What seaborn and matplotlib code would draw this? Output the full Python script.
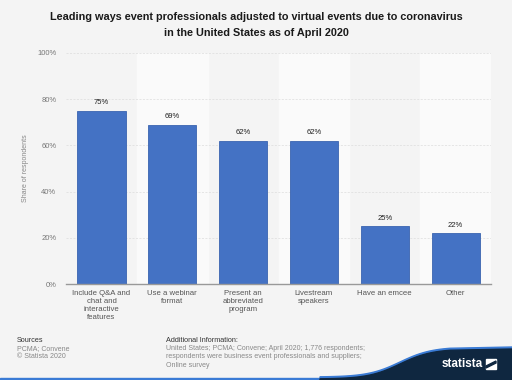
import numpy as np
import pandas as pd
import seaborn as sns
import matplotlib.pyplot as plt
from matplotlib.patches import Polygon, Rectangle

# data
categories = ["Include Q&A and\nchat and\ninteractive\nfeatures", "Use a webinar\nformat",
              "Present an\nabbreviated\nprogram", "Livestream\nspeakers", "Have an emcee", "Other"]
values = [75, 69, 62, 62, 25, 22]
y_ticks = [0, 20, 40, 60, 80, 100]

df = pd.DataFrame({"way": categories, "share": values})

sns.set_style("white")
plt.rcParams["font.family"] = ["Liberation Sans", "DejaVu Sans"]

bg = "#f4f4f4"
fig = plt.figure(figsize=(5.12, 3.80), dpi=100, facecolor=bg)
ax = fig.add_axes([0.129, 0.2526, 0.830, 0.608])
ax.set_facecolor(bg)

# alternating column bands
for i in range(len(categories)):
    if i % 2 == 1:
        ax.axvspan(i - 0.5, i + 0.5, color="#fafafa", zorder=0)

sns.barplot(data=df, x="way", y="share", color="#4472c4", width=0.68,
            saturation=1, edgecolor="#3a64b0", linewidth=0.6, ax=ax, zorder=3)

for i, v in enumerate(values):
    ax.text(i, v + 2, f"{v}%", ha="center", va="bottom", fontsize=5.5, color="#222222", zorder=4)

ax.set_ylim(0, 100)
ax.set_xlim(-0.5, len(categories) - 0.5)
ax.set_yticks(y_ticks)
ax.set_yticklabels([f"{t}%" for t in y_ticks], fontsize=5.5, color="#777777")
ax.tick_params(axis="x", labelsize=5.6, labelcolor="#555555", length=0, pad=4)
ax.tick_params(axis="y", length=0, pad=7)
ax.yaxis.grid(True, color="#dddddd", linestyle=(0, (3, 2)), linewidth=0.5, zorder=1)
ax.set_axisbelow(True)
for s in ["top", "right", "left"]:
    ax.spines[s].set_visible(False)
ax.spines["bottom"].set_color("#999999")
ax.spines["bottom"].set_linewidth(1)
ax.spines["bottom"].set_zorder(5)
ax.set_xlabel("")
ax.set_ylabel("Share of respondents", fontsize=5, color="#888888")
ax.yaxis.set_label_coords(-0.088, 0.5)

fig.text(0.5, 0.968, "Leading ways event professionals adjusted to virtual events due to coronavirus\n"
         "in the United States as of April 2020", ha="center", va="top",
         fontsize=7.85, fontweight="bold", color="#1a1a1a", linespacing=1.75)

# footer
fig.text(17 / 512, 1 - 341 / 380, "Sources", fontsize=5.2, color="#333333", va="center")
fig.text(17 / 512, 1 - 349 / 380, "PCMA; Convene", fontsize=5, color="#888888", va="center")
fig.text(17 / 512, 1 - 357 / 380, "© Statista 2020", fontsize=5, color="#888888", va="center")
fig.text(166 / 512, 1 - 341 / 380, "Additional Information:", fontsize=5.2, color="#333333", va="center")
fig.text(166 / 512, 1 - 357 / 380,
         "United States; PCMA; Convene; April 2020; 1,776 respondents;\n"
         "respondents were business event professionals and suppliers;\n"
         "Online survey", fontsize=5, color="#888888", va="center", linespacing=1.3)

# statista wave
xs_curve = np.linspace(320, 450, 40)
ys_curve = 379 - 30 * (1 / (1 + np.exp(-(xs_curve - 400) / 16)))
pts = [(320, 380)] + list(zip(xs_curve, ys_curve)) + [(512, 349), (512, 380)]
pts_f = [(x / 512, 1 - y / 380) for x, y in pts]
blue_pts = [(x / 512, 1 - (y - 2) / 380) for x, y in pts]
fig.patches.append(Polygon(blue_pts, closed=True, transform=fig.transFigure, color="#3a7bd5", zorder=1))
fig.patches.append(Polygon(pts_f, closed=True, transform=fig.transFigure, color="#0f2740", zorder=2))
fig.patches.append(Rectangle((0, 0), 1, 2.2 / 380, transform=fig.transFigure, color="#3a7bd5", zorder=1))
fig.text(462 / 512, 1 - 364 / 380, "statista", fontsize=8.5, fontweight="bold", color="white",
         ha="center", va="center", zorder=5)
fig.patches.append(Rectangle((486 / 512, 1 - 369 / 380), 10 / 512, 10 / 380,
                             transform=fig.transFigure, color="white", zorder=5))
fig.patches.append(Polygon([(486 / 512, 1 - 366 / 380), (496 / 512, 1 - 361 / 380), (496 / 512, 1 - 363 / 380),
                            (486 / 512, 1 - 368 / 380)], closed=True, transform=fig.transFigure,
                           color="#0f2740", zorder=6))

fig.savefig("out.png", dpi=100, facecolor=bg)
